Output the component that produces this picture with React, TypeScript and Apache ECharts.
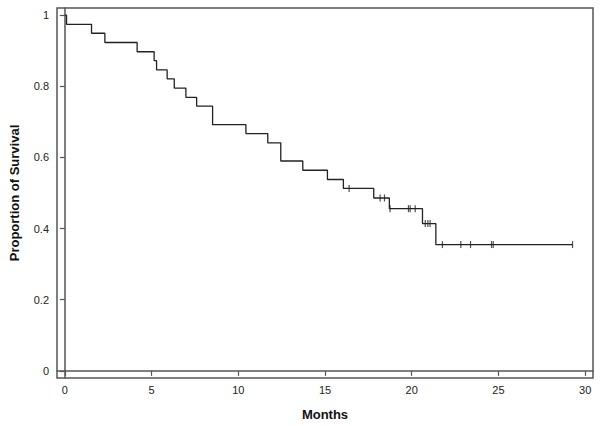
import React, { useEffect, useRef } from "react";
import * as echarts from "echarts";

// Kaplan–Meier step points (time in months, survival proportion)
const stepTimes = [0, 0.1, 1.54, 2.31, 4.17, 5.15, 5.29, 5.9, 6.31, 6.98, 7.6, 8.52, 10.44, 11.7, 12.45, 13.72, 15.14, 16.06, 17.81, 18.71, 20.62, 21.39, 29.27];
const stepSurvival = [1, 0.974, 0.949, 0.923, 0.897, 0.872, 0.846, 0.821, 0.795, 0.769, 0.744, 0.692, 0.667, 0.641, 0.59, 0.564, 0.538, 0.513, 0.486, 0.456, 0.414, 0.355, 0.355];

// Censored observations
const censorTimes = [16.39, 18.18, 18.43, 18.75, 19.81, 19.91, 20.2, 20.78, 20.93, 21.06, 21.77, 22.83, 23.39, 24.6, 24.7, 29.27];
const censorSurvival = [0.513, 0.486, 0.486, 0.456, 0.456, 0.456, 0.456, 0.414, 0.414, 0.414, 0.355, 0.355, 0.355, 0.355, 0.355, 0.355];

const xTicks = [0, 5, 10, 15, 20, 25, 30];
const yTicks = [0, 0.2, 0.4, 0.6, 0.8, 1];

export default function App() {
  const ref = useRef<HTMLDivElement>(null);
  useEffect(() => {
    if (!ref.current) return;
    const chart = echarts.init(ref.current, null, { renderer: "svg" });
    const axisColor = "#555";
    const font = "Liberation Sans, Arial, sans-serif";
    chart.setOption({
      animation: false,
      backgroundColor: "#fff",
      grid: {
        left: 57,
        right: 7,
        top: 8,
        bottom: 47,
        show: true,
        borderColor: axisColor,
        borderWidth: 1.5,
        backgroundColor: "transparent",
      },
      xAxis: {
        type: "value",
        min: -0.45,
        max: 30.45,
        name: "Months",
        nameLocation: "middle",
        nameGap: 30,
        nameTextStyle: { fontFamily: font, fontWeight: "bold", fontSize: 13, color: "#111" },
        axisLine: { show: true, lineStyle: { color: axisColor, width: 1.5 } },
        axisTick: { show: true, length: 5, customValues: xTicks, lineStyle: { color: axisColor, width: 1.2 } },
        axisLabel: { customValues: xTicks, margin: 6, fontFamily: font, fontSize: 11, color: "#222" },
        splitLine: { show: false },
      },
      yAxis: {
        type: "value",
        min: -0.02,
        max: 1.02,
        name: "Proportion of Survival",
        nameLocation: "middle",
        nameGap: 36,
        nameTextStyle: { fontFamily: font, fontWeight: "bold", fontSize: 13, color: "#111" },
        axisLine: { show: true, lineStyle: { color: axisColor, width: 1.5 } },
        axisTick: { show: true, length: 5, customValues: yTicks, lineStyle: { color: axisColor, width: 1.2 } },
        axisLabel: {
          customValues: yTicks,
          margin: 8,
          fontFamily: font,
          fontSize: 11,
          color: "#222",
          formatter: (v: number) => String(v),
        },
        splitLine: { show: false },
      },
      series: [
        {
          type: "line",
          step: "end",
          data: stepTimes.map((t, i) => [t, stepSurvival[i]]),
          showSymbol: false,
          lineStyle: { color: "#222", width: 1.3 },
        },
        {
          type: "scatter",
          data: censorTimes.map((t, i) => [t, censorSurvival[i]]),
          symbol: "rect",
          symbolSize: [1.2, 7],
          itemStyle: { color: "#222" },
        },
      ],
    });
    return () => chart.dispose();
  }, []);
  return <div ref={ref} style={{ position: "fixed", left: 0, top: 0, width: 600, height: 426 }} />;
}
